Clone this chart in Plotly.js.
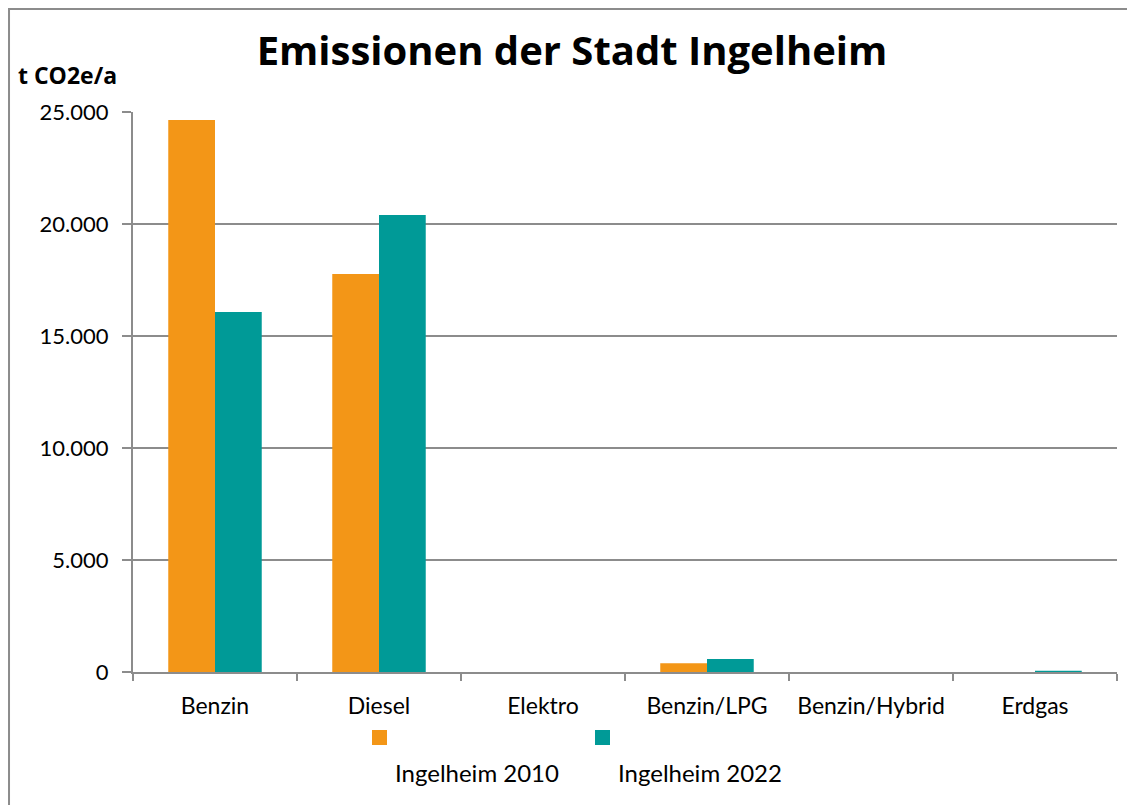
<!DOCTYPE html>
<html><head><meta charset="utf-8">
<script src="https://cdn.plot.ly/plotly-3.0.1.min.js"></script>
<style>html,body{margin:0;padding:0;background:#fff;}#chart{width:1127px;height:805px;}</style>
</head><body><div id="chart"></div>
<script>
const categories = ["Benzin", "Diesel", "Elektro", "Benzin/LPG", "Benzin/Hybrid", "Erdgas"];
const seriesNames = ["Ingelheim 2010", "Ingelheim 2022"];
const values2010 = [24640, 17770, 0, 390, 0, 0];
const values2022 = [16070, 20400, 0, 580, 0, 60];
const colors = ["#F39617", "#009A97"];
const yTicks = [0, 5000, 10000, 15000, 20000, 25000];

const font = "Lato, 'Open Sans', sans-serif";
const titleFont = "'Open Sans', Lato, sans-serif";
const traces = [
  {type: "bar", name: seriesNames[0], x: categories, y: values2010, marker: {color: colors[0]}, showlegend: false, hoverinfo: "x+y"},
  {type: "bar", name: seriesNames[1], x: categories, y: values2022, marker: {color: colors[1]}, showlegend: false, hoverinfo: "x+y"}
];
const layout = {
  width: 1127, height: 805,
  margin: {l: 133, r: 10, t: 112, b: 133},
  paper_bgcolor: "#fff", plot_bgcolor: "#fff",
  separators: ",.",
  barmode: "group", bargap: 0.43, bargroupgap: 0,
  font: {family: font, size: 23, color: "#000"},
  title: {text: "<b>Emissionen der Stadt Ingelheim</b>", xref: "container", x: 572/1127, xanchor: "center", y: (805-51)/805, yanchor: "middle", font: {family: titleFont, size: 40, color: "#000"}},
  xaxis: {
    type: "category", showline: true, linecolor: "#8c8c8c", linewidth: 2,
    ticks: "outside", tickson: "boundaries", ticklen: 7, tickcolor: "#8c8c8c", tickwidth: 2,
    tickfont: {size: 23}, tickangle: 0, showgrid: false, zeroline: false, ticklabelstandoff: 12
  },
  yaxis: {
    range: [0, 25000], tickvals: yTicks, tickformat: ",d",
    showline: true, linecolor: "#8c8c8c", linewidth: 2,
    ticks: "outside", ticklen: 9, tickcolor: "#8c8c8c", tickwidth: 2,
    showgrid: true, gridcolor: "#8c8c8c", gridwidth: 1.5, zeroline: false,
    tickfont: {size: 22}, ticklabelstandoff: 9
  },
  shapes: [
    {type: "rect", xref: "paper", yref: "paper", x0: -0.126, x1: 1.1, y0: -0.4, y1: 1.184, line: {color: "#8c8c8c", width: 2}, fillcolor: "rgba(0,0,0,0)", layer: "below"},
    {type: "rect", xref: "paper", yref: "paper", x0: (372-133)/984, x1: (387-133)/984, y0: (672-745)/560, y1: (672-730)/560, line: {width: 0}, fillcolor: colors[0]},
    {type: "rect", xref: "paper", yref: "paper", x0: (595-133)/984, x1: (610-133)/984, y0: (672-745)/560, y1: (672-730)/560, line: {width: 0}, fillcolor: colors[1]}
  ],
  annotations: [
    {text: "<b>t CO2e/a</b>", xref: "paper", yref: "paper", x: (16-133)/984, y: (672-75)/560, xanchor: "left", yanchor: "middle", showarrow: false, font: {family: titleFont, size: 23}},
    {text: seriesNames[0], xref: "paper", yref: "paper", x: (477-133)/984, y: (672-772)/560, xanchor: "center", yanchor: "middle", showarrow: false, font: {size: 24}},
    {text: seriesNames[1], xref: "paper", yref: "paper", x: (700-133)/984, y: (672-772)/560, xanchor: "center", yanchor: "middle", showarrow: false, font: {size: 24}}
  ]
};
Plotly.newPlot("chart", traces, layout, {displayModeBar: false, staticPlot: true});
</script></body></html>
